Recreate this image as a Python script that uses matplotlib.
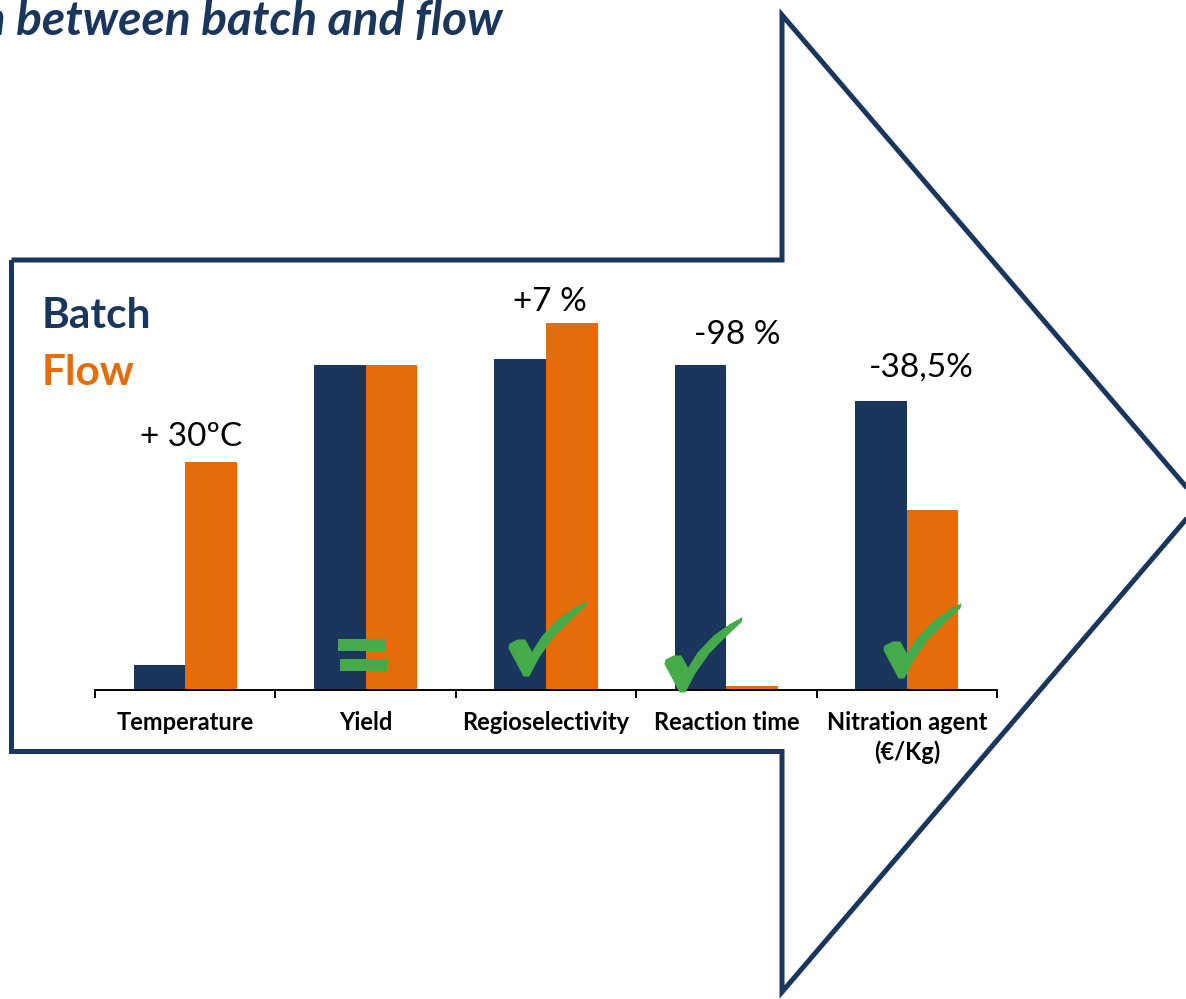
import numpy as np
import matplotlib
matplotlib.use("Agg")
import matplotlib.pyplot as plt
import matplotlib.transforms as mtransforms
from matplotlib.patches import Polygon, Rectangle

# ---- data -------------------------------------------------------------
categories = ["Temperature", "Yield", "Regioselectivity", "Reaction time",
              "Nitration agent\n(€/Kg)"]
batch = [25, 325, 331, 325, 289]
flow = [228, 325, 367, 4, 180]

change_cats = [0, 2, 3, 4]
change_labels = ["+ 30ºC", "+7 %", "-98 %", "-38,5%"]
improved_cats = [2, 3, 4]       # green tick
unchanged_cats = [1]            # green equals sign

# ---- style ------------------------------------------------------------
NAVY = "#1B365D"
ORANGE = "#E46C0A"
GREEN = "#45AB4A"
FONT = ["Lato", "DejaVu Sans"]

W, H = 1186, 999
fig = plt.figure(figsize=(W / 100, H / 100), dpi=100)
fig.patch.set_facecolor("white")


def fpos(x, y):
    """pixel position (from top-left) -> figure fraction"""
    return x / W, 1 - y / H


# big outlined arrow in the background
arrow_px = [(11.5, 260), (782, 260), (782, 15), (1200, 503),
            (782, 992), (782, 751.5), (11.5, 751.5)]
arrow = Polygon([fpos(x, y) for x, y in arrow_px], closed=True, fill=False,
                edgecolor=NAVY, linewidth=3.6, joinstyle="miter",
                transform=fig.transFigure, figure=fig, zorder=0)
fig.patches.append(arrow)

# ---- bar chart --------------------------------------------------------
left, bottom = fpos(95, 690)
right, top = fpos(997, 290)
ax = fig.add_axes([left, bottom, right - left, top - bottom])
ax.patch.set_visible(False)
ax.set_zorder(2)

x = np.arange(len(categories))
w = 0.2855
ax.bar(x - w / 2, batch, w, color=NAVY, zorder=2)
ax.bar(x + w / 2, flow, w, color=ORANGE, zorder=2)

ax.set_xlim(-0.5, len(categories) - 0.5)
ax.set_ylim(0, 400)
for s in ("top", "left", "right"):
    ax.spines[s].set_visible(False)
ax.spines["bottom"].set_linewidth(1.4)
ax.spines["bottom"].set_color("black")
ax.set_yticks([])

ax.set_xticks(x)
ax.set_xticklabels(categories, fontfamily=FONT, fontweight="bold",
                   fontsize=17, linespacing=1.33)
ax.set_xticks(np.arange(len(categories) + 1) - 0.5, minor=True)
ax.tick_params(axis="x", which="major", length=0, pad=15)
ax.tick_params(axis="x", which="minor", length=6, width=1.4, color="black")

# change annotations above each group
label_dx = [0.03, 0.02, 0.06, 0.08]
label_dy = [25, 21, 30, 33]
for i, lab, dx, dy in zip(change_cats, change_labels, label_dx, label_dy):
    ax.text(i + dx, max(batch[i], flow[i]) + dy, lab, ha="center",
            va="center", fontsize=24, fontfamily=FONT, color="black",
            zorder=4)

# green check marks (shape in pixels, y pointing down, origin at left tip)
check_shape = np.array([
    (0, -3), (8, -7), (15, -7), (20, 2), (22, 6),          # short arm, top
    (32, -10), (48, -27), (65, -39), (76, -45),            # long arm, top
    (75, -41), (59, -26), (43, -10), (29, 10), (19, 29),   # long arm, bottom
    (14, 29), (6, 14), (-1, 1)], dtype=float)              # short arm, bottom
check_anchor = {2: (-0.20, 43), 3: (-0.335, 27), 4: (-0.121, 41)}
for i in improved_cats:
    dx, yy = check_anchor[i]
    tr = (mtransforms.Affine2D().scale(0.01, -0.01) + fig.dpi_scale_trans +
          mtransforms.ScaledTranslation(i + dx, yy, ax.transData))
    ax.add_patch(Polygon(check_shape, closed=True, facecolor=GREEN,
                         edgecolor=GREEN, linewidth=0.8, joinstyle="round",
                         transform=tr, zorder=5, clip_on=False))

# green equals sign
for i in unchanged_cats:
    ax.add_patch(Rectangle((i - 0.153, 39), 0.266, 12, facecolor=GREEN,
                           edgecolor="none", zorder=5))
    ax.add_patch(Rectangle((i - 0.142, 19), 0.262, 12, facecolor=GREEN,
                           edgecolor="none", zorder=5))

# ---- legend words and title -----------------------------------------
fig.text(*fpos(42, 316), "Batch", color=NAVY, fontweight="bold",
         fontsize=30.5, fontfamily=FONT, va="center", ha="left")
fig.text(*fpos(42, 373), "Flow", color=ORANGE, fontweight="bold",
         fontsize=30.5, fontfamily=FONT, va="center", ha="left")
fig.text(*fpos(503, 35), "Comparison between batch and flow", color=NAVY,
         fontweight="bold", fontstyle="italic", fontsize=34.5,
         fontfamily=FONT, va="baseline", ha="right")

fig.savefig("out.png", dpi=100)
